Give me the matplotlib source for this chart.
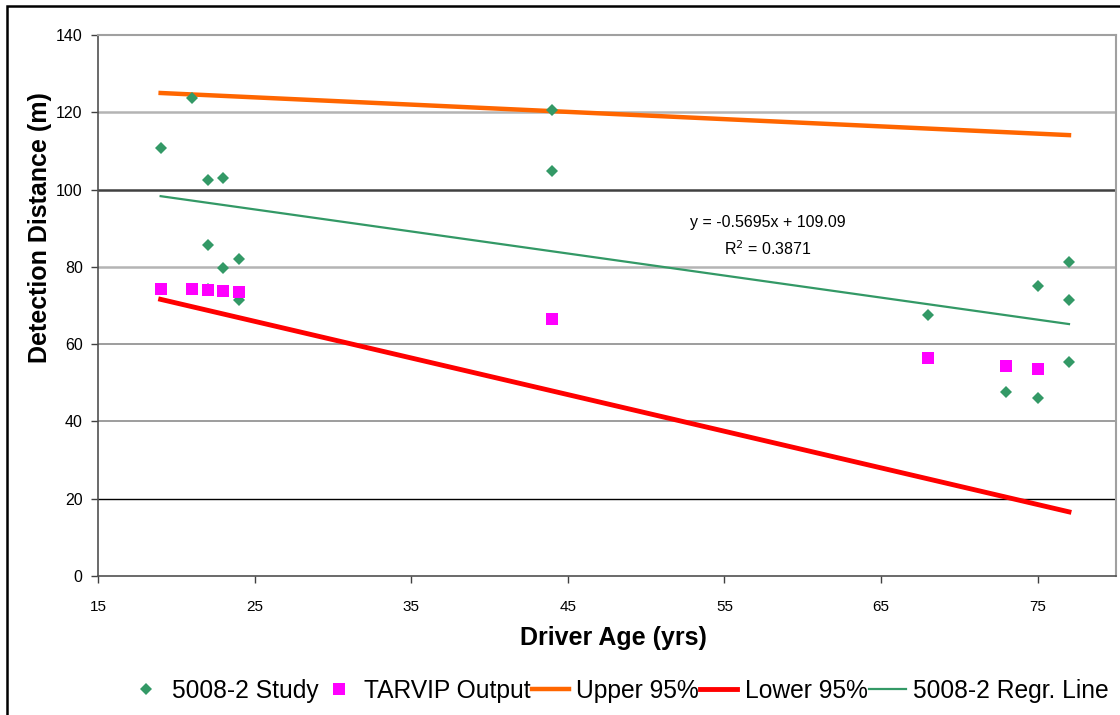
import numpy as np
from matplotlib import pyplot as plt
from matplotlib.patches import Rectangle

plt.rcParams['font.family'] = ['Liberation Sans', 'DejaVu Sans']

# 5008-2 study measurements
study_age = [19, 21, 22, 22, 22, 23, 23, 24, 24, 44, 44, 68, 73, 75, 75, 77, 77, 77]
study_dist = [110.8, 123.7, 102.5, 85.7, 74.3, 103.0, 79.8, 82.0, 71.5,
              120.6, 104.8, 67.5, 47.6, 46.0, 75.0, 81.3, 71.4, 55.4]

# TARVIP model output
tarvip_age = [19, 21, 22, 23, 24, 44, 68, 73, 75]
tarvip_dist = [74.4, 74.2, 74.0, 73.8, 73.4, 66.5, 56.4, 54.3, 53.6]

# band and regression line end points
line_age = [19, 77]
upper_95 = [125.0, 114.1]
lower_95 = [71.6, 16.6]
regr_line = [98.3, 65.2]

x_ticks = [15, 25, 35, 45, 55, 65, 75]
y_ticks = [0, 20, 40, 60, 80, 100, 120, 140]
grid_colors = {20: '#000000', 40: '#8c8c8c', 60: '#8c8c8c', 80: '#b4b4b4',
               100: '#404040', 120: '#b4b4b4'}
grid_widths = {20: 1.0, 40: 1.2, 60: 1.2, 80: 1.8, 100: 1.8, 120: 1.8}


def make_plot():
    fig = plt.figure(figsize=(11.2, 7.15), dpi=100)
    ax = fig.add_axes([0.0875, 0.1944, 0.9089, 0.7566])

    for yv in grid_colors:
        ax.axhline(yv, color=grid_colors[yv], lw=grid_widths[yv], zorder=1)

    ax.plot(study_age, study_dist, 'D', color='#339966', ms=6, mew=0,
            label='5008-2 Study', zorder=4)
    ax.plot(tarvip_age, tarvip_dist, 's', color='#ff00ff', ms=9, mew=0,
            label='TARVIP Output', zorder=5)
    ax.plot(line_age, upper_95, color='#ff6600', lw=3.2, label='Upper 95%', zorder=3)
    ax.plot(line_age, lower_95, color='#ff0000', lw=3.5, label='Lower 95%', zorder=3)
    ax.plot(line_age, regr_line, color='#339966', lw=1.6,
            label='5008-2 Regr. Line', zorder=3)

    ax.text(57.8, 87.9, 'y = -0.5695x + 109.09\nR$^2$ = 0.3871', ha='center',
            va='center', fontsize=11.5, linespacing=1.55)

    ax.set_xlim(15, 80)
    ax.set_ylim(0, 140)
    ax.set_xticks(x_ticks)
    ax.set_yticks(y_ticks)
    ax.tick_params(direction='out', length=5, width=1, color='#404040', pad=6)
    ax.tick_params(axis='y', labelsize=11.5)
    ax.tick_params(axis='x', labelsize=11, pad=12)
    for side in ['left', 'bottom']:
        ax.spines[side].set_color('#505050')
        ax.spines[side].set_linewidth(1.2)
    for side in ['top', 'right']:
        ax.spines[side].set_color('#a0a0a0')
        ax.spines[side].set_linewidth(1.5)

    ax.set_xlabel('Driver Age (yrs)', fontsize=18, fontweight='bold')
    ax.xaxis.set_label_coords(0.506, -0.092)
    ax.set_ylabel('Detection Distance (m)', fontsize=18, fontweight='bold')
    ax.yaxis.set_label_coords(-0.045, 0.644)

    fig.legend(loc='center', bbox_to_anchor=(0.552, 0.034), ncol=5, frameon=False,
               fontsize=17.7, handlelength=1.5, handletextpad=0.3,
               columnspacing=0.05, borderaxespad=0)

    fig.patches.append(Rectangle((0.00625, -0.05), 1.1, 1.0423, transform=fig.transFigure,
                                 fill=False, ec='black', lw=1.8))

    fig.savefig('out.png', dpi=100)
    plt.close(fig)


make_plot()
